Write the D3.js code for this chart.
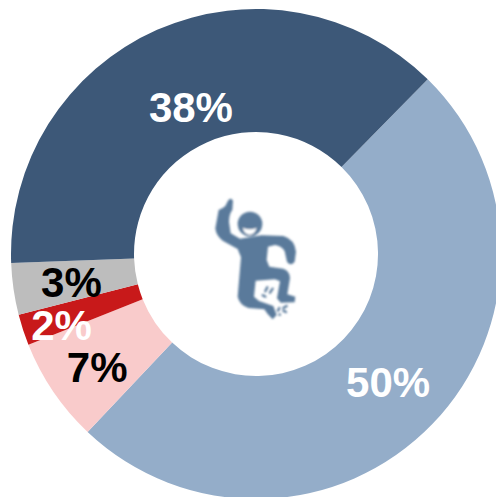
<!DOCTYPE html>
<html>
<head>
<meta charset="utf-8">
<script src="https://cdn.jsdelivr.net/npm/d3@7"></script>
<style>
  html, body { margin: 0; padding: 0; background: #fff; }
  svg { display: block; }
  text { font-family: "Liberation Sans", Arial, sans-serif; font-weight: bold; }
</style>
</head>
<body>
<div id="chart"></div>
<script>
// values, labels are the rounded figures printed on them
const categories = ['a', 'b', 'c', 'd', 'e'];
const values = [49.7, 6.9, 2.05, 3.4, 37.95];
const labels = ['50%', '7%', '2%', '3%', '38%'];
const colors = ['#94adc9', '#f9cbcb', '#c8191a', '#bdbdbd', '#3d5878'];
const labelColors = ['#fff', '#000', '#fff', '#000', '#fff'];

const width = 496;
const height = 497;
const cx = 256;
const cy = 254;
const outerR = 245;
const innerR = 122;
const startDeg = 44.5;
// hand placed in the original, nudged off the arc centroid
const labelNudge = [[0, 1], [-7, 10], [-20, 15], [-3, 2], [9, 21]];

const svg = d3.select('#chart').append('svg')
  .attr('width', width)
  .attr('height', height);

const pie = d3.pie()
  .sort(null)
  .value(d => d)
  .startAngle(startDeg * Math.PI / 180)
  .endAngle((startDeg + 360) * Math.PI / 180);
const arc = d3.arc().innerRadius(innerR).outerRadius(outerR);
const arcs = pie(values);

const g = svg.append('g').attr('transform', `translate(${cx},${cy})`);

g.selectAll('path.slice')
  .data(arcs)
  .enter()
  .append('path')
  .attr('class', 'slice')
  .attr('data-category', (d, i) => categories[i])
  .attr('d', arc)
  .attr('fill', (d, i) => colors[i]);

g.selectAll('text.label')
  .data(arcs)
  .enter()
  .append('text')
  .attr('class', 'label')
  .attr('x', (d, i) => arc.centroid(d)[0] + labelNudge[i][0])
  .attr('y', (d, i) => arc.centroid(d)[1] + labelNudge[i][1])
  .attr('text-anchor', 'middle')
  .attr('dominant-baseline', 'central')
  .attr('font-size', 42)
  .attr('fill', (d, i) => labelColors[i])
  .text((d, i) => labels[i]);

// ── Centre icon, traced at 3x ──────────────────────────────
const defs = svg.append('defs');
defs.append('filter').attr('id', 'soft')
  .append('feGaussianBlur').attr('stdDeviation', 2.4);

const iconColor = '#5a7a9b';
const icon = svg.append('g')
  .attr('transform', 'translate(190,180) scale(0.3333)')
  .attr('filter', 'url(#soft)');

icon.append('path')
  .attr('fill', iconColor)
  .attr('d', 'M114 62 Q122 50 129 62 L127 90 Q118 100 117 125 L122 160 L150 176 L215 166 L280 168 Q314 178 318 215 L314 245 Q302 260 291 245 L284 214 Q275 197 255 195 L234 200 L230 240 L238 260 L280 266 Q300 273 300 295 L292 343 L316 350 L314 367 L272 368 L261 355 L270 304 L255 298 L197 302 L192 350 L207 363 L250 378 L260 405 L248 418 L233 402 L223 388 L175 384 Q148 374 143 350 L153 232 L143 207 L98 182 Q78 167 76 145 L86 90 Q100 84 106 78 Z');

icon.append('circle')
  .attr('cx', 180)
  .attr('cy', 132)
  .attr('r', 37)
  .attr('fill', iconColor);

icon.append('path')
  .attr('fill', '#fff')
  .attr('d', 'M158 143 Q180 152 200 143 Q194 164 178 164 Q163 162 158 143 Z');

// splashes around the knee
icon.append('g')
  .attr('stroke', iconColor)
  .attr('stroke-width', 7)
  .attr('stroke-linecap', 'round')
  .selectAll('line')
  .data([[232, 322, 226, 334], [248, 326, 240, 338], [218, 346, 226, 350], [268, 384, 264, 392], [290, 378, 280, 384], [288, 396, 280, 392], [270, 404, 268, 404]])
  .enter()
  .append('line')
  .attr('x1', d => d[0])
  .attr('y1', d => d[1])
  .attr('x2', d => d[2])
  .attr('y2', d => d[3]);
</script>
</body>
</html>
